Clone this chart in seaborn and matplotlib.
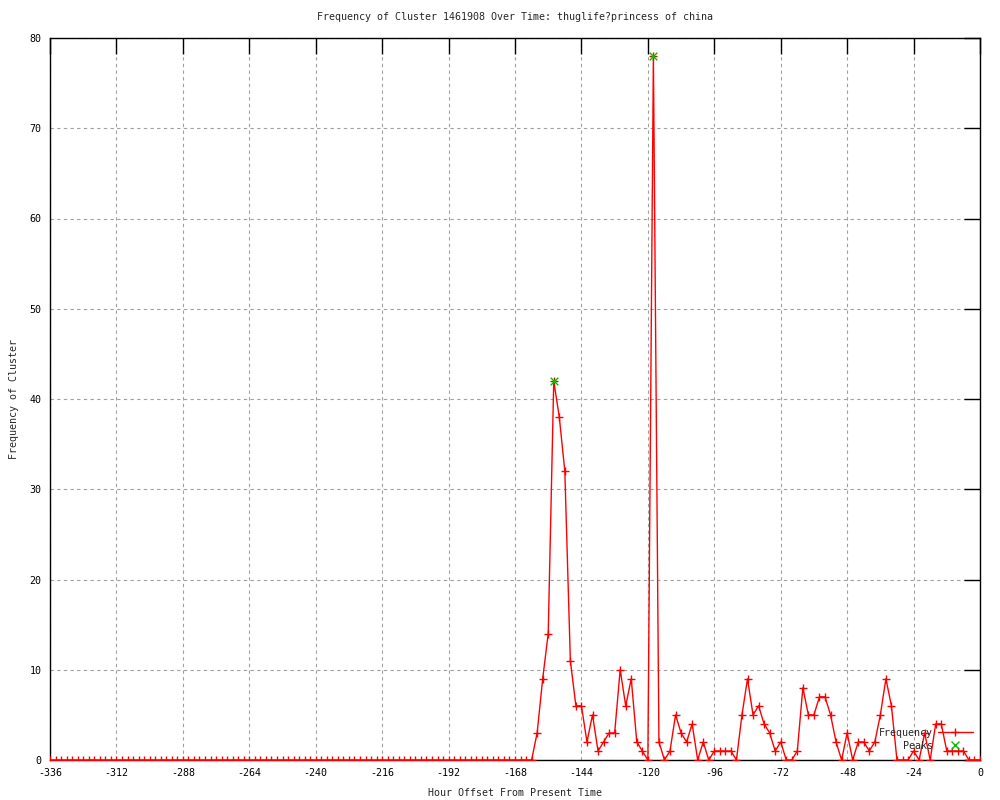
import numpy as np
import pandas as pd
import matplotlib
matplotlib.use("Agg")
import matplotlib.pyplot as plt
from matplotlib.lines import Line2D
import seaborn as sns

# ---- data ----
hours = np.arange(-336, 1, 2)
freq_leading_zeros = [0] * 88  # -336 .. -162
freq_tail = [3, 9, 14, 42, 38, 32, 11, 6, 6, 2,
             5, 1, 2, 3, 3, 10, 6, 9, 2, 1,
             0, 78, 2, 0, 1, 5, 3, 2, 4, 0,
             2, 0, 1, 1, 1, 1, 0, 5, 9, 5,
             6, 4, 3, 1, 2, 0, 0, 1, 8, 5,
             5, 7, 7, 5, 2, 0, 3, 0, 2, 2,
             1, 2, 5, 9, 6, 0, 0, 0, 1, 0,
             3, 0, 4, 4, 1, 1, 1, 1, 0, 0,
             0]  # -160 .. 0
frequency = freq_leading_zeros + freq_tail
peak_hours = [-154, -118]
peak_values = [42, 78]
x_ticks = list(range(-336, 1, 24))
y_ticks = list(range(0, 81, 10))
title = "Frequency of Cluster 1461908 Over Time: thuglife?princess of china"
xlabel = "Hour Offset From Present Time"
ylabel = "Frequency of Cluster"

df = pd.DataFrame({"hour": hours, "freq": frequency})
peaks = pd.DataFrame({"hour": peak_hours, "freq": peak_values})

sns.set_style("white")
plt.rcParams["font.family"] = ["DejaVu Sans Mono", "DejaVu Sans"]
plt.rcParams["axes.unicode_minus"] = False
FS = 7.2

fig = plt.figure(figsize=(10, 8), dpi=100)
ax = fig.add_axes([0.05, 0.05, 0.93, 0.9025])

sns.lineplot(data=df, x="hour", y="freq", ax=ax, color="#ff0000", linewidth=1.0,
             marker="+", markersize=6, markeredgecolor="#ff0000",
             markeredgewidth=1.0, zorder=3)
sns.scatterplot(data=peaks, x="hour", y="freq", ax=ax, marker="x",
                color="#00c000", s=30, linewidth=1.0, zorder=4)

ax.set_xlim(-336, 0)
ax.set_ylim(0, 80)
ax.set_xticks(x_ticks)
ax.set_yticks(y_ticks)
ax.grid(True, color="#a0a0a0", linestyle=(0, (3, 3)), linewidth=0.8)
ax.tick_params(direction="in", length=11.5, width=1, colors="black",
               labelsize=FS, top=True, right=True, pad=6)
for s in ax.spines.values():
    s.set_color("black")
    s.set_linewidth(1)

ax.set_title(title, fontsize=FS, pad=13)
ax.set_xlabel(xlabel, fontsize=FS, labelpad=7)
ax.set_ylabel(ylabel, fontsize=FS, labelpad=8)

handles = [Line2D([], [], color="#ff0000", lw=1, marker="+", markersize=6,
                  markeredgewidth=1),
           Line2D([], [], color="#00c000", lw=0, marker="x", markersize=5.5,
                  markeredgewidth=1)]
ax.legend(handles, ["Frequency", "Peaks"], loc="center right",
          bbox_to_anchor=(0.992, 0.0285), markerfirst=False, frameon=False,
          fontsize=FS, handlelength=3.5, handletextpad=0.5, labelspacing=0.3,
          borderpad=0, borderaxespad=0)

fig.savefig("out.png", dpi=100)
